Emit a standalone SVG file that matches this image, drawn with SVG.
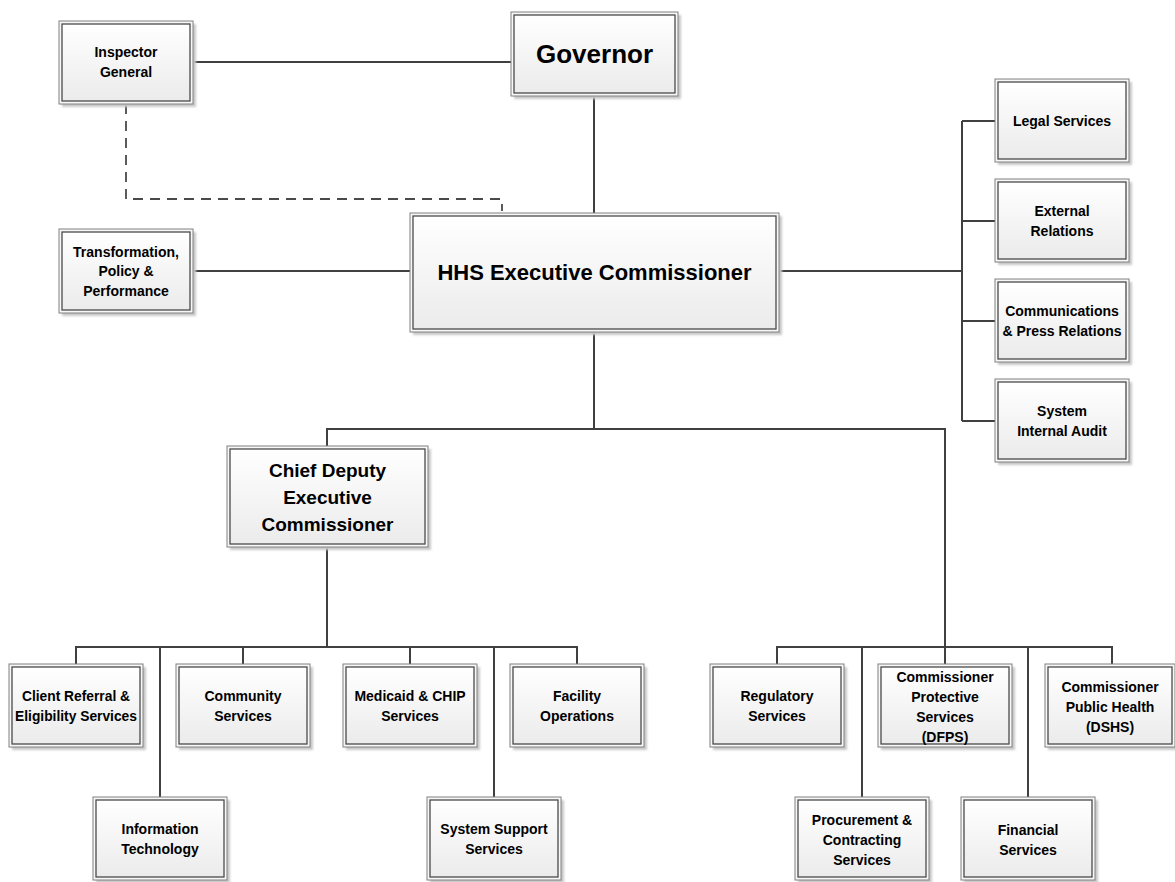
<svg xmlns="http://www.w3.org/2000/svg" width="1175" height="882" viewBox="0 0 1175 882">
<defs>
<linearGradient id="g" x1="0" y1="0" x2="0" y2="1">
<stop offset="0" stop-color="#ffffff"/>
<stop offset="1" stop-color="#ebebeb"/>
</linearGradient>
<filter id="sh" x="-10%" y="-10%" width="130%" height="130%">
<feGaussianBlur stdDeviation="1"/>
</filter>
<style>
.sh{fill:#c8c8c8;filter:url(#sh)}
.o{fill:#f7f7f7;stroke:#808080;stroke-width:1}
.i{fill:url(#g);stroke:#4a4a4a;stroke-width:1.3}
.t{font-family:"Liberation Sans",Arial,sans-serif;font-weight:bold;fill:#000;text-anchor:middle;font-size:14px}
.c{fill:none;stroke:#404040;stroke-width:2}
.d{fill:none;stroke:#4a4a4a;stroke-width:1.8;stroke-dasharray:10 7}
</style>
</defs>
<rect width="1175" height="882" fill="#fff"/>
<g id="connectors">
<path class="c" d="M193 62H511"/>
<path class="c" d="M594 96V213"/>
<path class="c" d="M193 271H410"/>
<path class="c" d="M779 271H962"/>
<path class="c" d="M962 121V421M962 121H995M962 221H995M962 321H995M962 421H995"/>
<path class="c" d="M594 332V429M327 446V429H945V647"/>
<path class="c" d="M327 547V647M76 664V647H577V664M243 647V664M410 647V664M160 647V797M494 647V797"/>
<path class="c" d="M777 664V647H1112V664M945 647V664M862 647V797M1028 647V797"/>
<path class="d" d="M126 104V199H502V211"/>
</g>
<g id="inspector-general">
<rect class="sh" x="62" y="24" width="134" height="83"/><rect class="o" x="59" y="21" width="134" height="83"/><rect class="i" x="62" y="24" width="128" height="77"/>
<text class="t" x="126" y="57">Inspector</text><text class="t" x="126" y="77">General</text>
</g>
<g id="governor">
<rect class="sh" x="514" y="15" width="167" height="84"/><rect class="o" x="511" y="12" width="167" height="84"/><rect class="i" x="514" y="15" width="161" height="78"/>
<text class="t" x="594.5" y="63" style="font-size:26px">Governor</text>
</g>
<g id="transformation">
<rect class="sh" x="62" y="232" width="134" height="84"/><rect class="o" x="59" y="229" width="134" height="84"/><rect class="i" x="62" y="232" width="128" height="78"/>
<text class="t" x="126" y="257">Transformation,</text><text class="t" x="126" y="276">Policy &amp;</text><text class="t" x="126" y="296">Performance</text>
</g>
<g id="hhs">
<rect class="sh" x="413" y="216" width="369" height="119"/><rect class="o" x="410" y="213" width="369" height="119"/><rect class="i" x="413" y="216" width="363" height="113"/>
<text class="t" x="594.5" y="280" style="font-size:22px">HHS Executive Commissioner</text>
</g>
<g id="legal">
<rect class="sh" x="998" y="82" width="134" height="83"/><rect class="o" x="995" y="79" width="134" height="83"/><rect class="i" x="998" y="82" width="128" height="77"/>
<text class="t" x="1062" y="126">Legal Services</text>
</g>
<g id="external">
<rect class="sh" x="998" y="182" width="134" height="83"/><rect class="o" x="995" y="179" width="134" height="83"/><rect class="i" x="998" y="182" width="128" height="77"/>
<text class="t" x="1062" y="216">External</text><text class="t" x="1062" y="236">Relations</text>
</g>
<g id="communications">
<rect class="sh" x="998" y="282" width="134" height="83"/><rect class="o" x="995" y="279" width="134" height="83"/><rect class="i" x="998" y="282" width="128" height="77"/>
<text class="t" x="1062" y="316">Communications</text><text class="t" x="1062" y="336">&amp; Press Relations</text>
</g>
<g id="audit">
<rect class="sh" x="998" y="382" width="134" height="83"/><rect class="o" x="995" y="379" width="134" height="83"/><rect class="i" x="998" y="382" width="128" height="77"/>
<text class="t" x="1062" y="416">System</text><text class="t" x="1062" y="436">Internal Audit</text>
</g>
<g id="chief-deputy">
<rect class="sh" x="230" y="449" width="201" height="101"/><rect class="o" x="227" y="446" width="201" height="101"/><rect class="i" x="230" y="449" width="195" height="95"/>
<text class="t" x="327.5" y="477" style="font-size:19px">Chief Deputy</text><text class="t" x="327.5" y="504" style="font-size:19px">Executive</text><text class="t" x="327.5" y="531" style="font-size:19px">Commissioner</text>
</g>
<g id="client-referral">
<rect class="sh" x="12" y="667" width="134" height="83"/><rect class="o" x="9" y="664" width="134" height="83"/><rect class="i" x="12" y="667" width="128" height="77"/>
<text class="t" x="76" y="701" style="font-size:13.8px">Client Referral &amp;</text><text class="t" x="76" y="721" style="font-size:13.8px">Eligibility Services</text>
</g>
<g id="community">
<rect class="sh" x="179" y="667" width="134" height="83"/><rect class="o" x="176" y="664" width="134" height="83"/><rect class="i" x="179" y="667" width="128" height="77"/>
<text class="t" x="243" y="701">Community</text><text class="t" x="243" y="721">Services</text>
</g>
<g id="medicaid">
<rect class="sh" x="346" y="667" width="134" height="83"/><rect class="o" x="343" y="664" width="134" height="83"/><rect class="i" x="346" y="667" width="128" height="77"/>
<text class="t" x="410" y="701">Medicaid &amp; CHIP</text><text class="t" x="410" y="721">Services</text>
</g>
<g id="facility">
<rect class="sh" x="513" y="667" width="134" height="83"/><rect class="o" x="510" y="664" width="134" height="83"/><rect class="i" x="513" y="667" width="128" height="77"/>
<text class="t" x="577" y="701">Facility</text><text class="t" x="577" y="721">Operations</text>
</g>
<g id="it">
<rect class="sh" x="96" y="800" width="134" height="83"/><rect class="o" x="93" y="797" width="134" height="83"/><rect class="i" x="96" y="800" width="128" height="77"/>
<text class="t" x="160" y="834">Information</text><text class="t" x="160" y="854">Technology</text>
</g>
<g id="system-support">
<rect class="sh" x="430" y="800" width="134" height="83"/><rect class="o" x="427" y="797" width="134" height="83"/><rect class="i" x="430" y="800" width="128" height="77"/>
<text class="t" x="494" y="834">System Support</text><text class="t" x="494" y="854">Services</text>
</g>
<g id="regulatory">
<rect class="sh" x="713" y="667" width="134" height="83"/><rect class="o" x="710" y="664" width="134" height="83"/><rect class="i" x="713" y="667" width="128" height="77"/>
<text class="t" x="777" y="701">Regulatory</text><text class="t" x="777" y="721">Services</text>
</g>
<g id="protective">
<rect class="sh" x="881" y="667" width="134" height="83"/><rect class="o" x="878" y="664" width="134" height="83"/><rect class="i" x="881" y="667" width="128" height="77"/>
<text class="t" x="945" y="682">Commissioner</text><text class="t" x="945" y="702">Protective</text><text class="t" x="945" y="722">Services</text><text class="t" x="945" y="742">(DFPS)</text>
</g>
<g id="public-health">
<rect class="sh" x="1048" y="667" width="130" height="83"/><rect class="o" x="1045" y="664" width="130" height="83"/><rect class="i" x="1048" y="667" width="124" height="77"/>
<text class="t" x="1110" y="692">Commissioner</text><text class="t" x="1110" y="712">Public Health</text><text class="t" x="1110" y="732">(DSHS)</text>
</g>
<g id="procurement">
<rect class="sh" x="798" y="800" width="134" height="83"/><rect class="o" x="795" y="797" width="134" height="83"/><rect class="i" x="798" y="800" width="128" height="77"/>
<text class="t" x="862" y="825">Procurement &amp;</text><text class="t" x="862" y="845">Contracting</text><text class="t" x="862" y="865">Services</text>
</g>
<g id="financial">
<rect class="sh" x="964" y="800" width="134" height="83"/><rect class="o" x="961" y="797" width="134" height="83"/><rect class="i" x="964" y="800" width="128" height="77"/>
<text class="t" x="1028" y="835">Financial</text><text class="t" x="1028" y="855">Services</text>
</g>
</svg>
